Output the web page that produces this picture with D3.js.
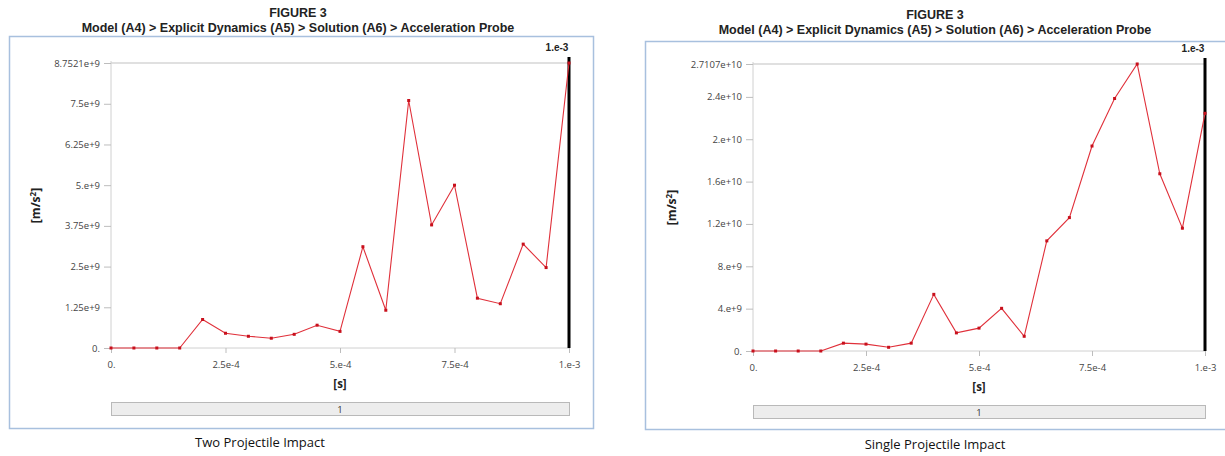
<!DOCTYPE html>
<html>
<head>
<meta charset="utf-8">
<script src="https://cdn.jsdelivr.net/npm/d3@7"></script>
<style>
  body { margin: 0; background: #fff; }
  svg { display: block; }
</style>
</head>
<body>
<div id="chart"></div>
<script>
const WIDTH = 1225;
const HEIGHT = 456;

// time steps [s]
const TIME = [0, 5e-5, 1e-4, 1.5e-4, 2e-4, 2.5e-4, 3e-4, 3.5e-4, 4e-4, 4.5e-4, 5e-4,
              5.5e-4, 6e-4, 6.5e-4, 7e-4, 7.5e-4, 8e-4, 8.5e-4, 9e-4, 9.5e-4, 1e-3];

// acceleration [m/s^2]
const TWO_PROJ = [0, 0, 0, 0, 0.875e9, 0.453e9, 0.36e9, 0.30e9, 0.42e9, 0.70e9, 0.51e9,
                  3.11e9, 1.16e9, 7.6e9, 3.78e9, 5.0e9, 1.53e9, 1.36e9, 3.19e9, 2.47e9, 8.7521e9];
const SINGLE_PROJ = [0, 0, 0, 0, 0.74e9, 0.65e9, 0.35e9, 0.74e9, 5.35e9, 1.71e9, 2.16e9,
                     4.03e9, 1.39e9, 1.04e10, 1.26e10, 1.936e10, 2.385e10, 2.7107e10, 1.674e10, 1.16e10, 2.245e10];

const X_TICKS = [0, 2.5e-4, 5e-4, 7.5e-4, 1e-3];
const X_TICK_LABELS = ['0.', '2.5e-4', '5.e-4', '7.5e-4', '1.e-3'];

const TWO_Y_TICKS = [0, 1.25e9, 2.5e9, 3.75e9, 5e9, 6.25e9, 7.5e9, 8.7521e9];
const TWO_Y_LABELS = ['0.', '1.25e+9', '2.5e+9', '3.75e+9', '5.e+9', '6.25e+9', '7.5e+9', '8.7521e+9'];
const SINGLE_Y_TICKS = [0, 4e9, 8e9, 1.2e10, 1.6e10, 2e10, 2.4e10, 2.7107e10];
const SINGLE_Y_LABELS = ['0.', '4.e+9', '8.e+9', '1.2e+10', '1.6e+10', '2.e+10', '2.4e+10', '2.7107e+10'];

const TITLE = 'FIGURE 3';
const SUBTITLE = 'Model (A4) > Explicit Dynamics (A5) > Solution (A6) > Acceleration Probe';

const TITLE_FONT = "'Liberation Sans Narrow', 'Liberation Sans', Arial, sans-serif";
const TICK_FONT = "'Open Sans', 'Noto Sans', sans-serif";

const PANELS = [
  { frame: [9, 36, 584, 392], plot: [111, 63, 569, 348], titleX: 298, titleY: 17,
    values: TWO_PROJ, yTicks: TWO_Y_TICKS, yLabels: TWO_Y_LABELS, yLabelX: 40,
    caption: 'Two Projectile Impact', captionX: 260, captionY: 447 },
  { frame: [645, 41, 600, 388], plot: [753, 64, 1205, 351], titleX: 935, titleY: 19,
    values: SINGLE_PROJ, yTicks: SINGLE_Y_TICKS, yLabels: SINGLE_Y_LABELS, yLabelX: 676,
    caption: 'Single Projectile Impact', captionX: 935, captionY: 449 }
];

const svg = d3.select('#chart').append('svg')
  .attr('width', WIDTH)
  .attr('height', HEIGHT);

svg.append('rect')
  .attr('width', WIDTH)
  .attr('height', HEIGHT)
  .attr('fill', '#fff');

PANELS.forEach(p => {
  const [x0, y0, x1, y1] = p.plot;
  const xScale = d3.scaleLinear().domain([0, 1e-3]).range([x0, x1]);
  const yScale = d3.scaleLinear().domain([0, d3.max(p.yTicks)]).range([y1, y0]);

  // Frame
  svg.append('rect')
    .attr('x', p.frame[0] + 0.5)
    .attr('y', p.frame[1] + 0.5)
    .attr('width', p.frame[2])
    .attr('height', p.frame[3])
    .attr('fill', 'none')
    .attr('stroke', '#a8c0de')
    .attr('stroke-width', 1.5);

  // Titles
  svg.append('text')
    .attr('x', p.titleX)
    .attr('y', p.titleY)
    .attr('text-anchor', 'middle')
    .style('font-family', TITLE_FONT)
    .style('font-weight', 'bold')
    .style('font-size', '12.5px')
    .attr('fill', '#222')
    .text(TITLE);

  svg.append('text')
    .attr('x', p.titleX)
    .attr('y', p.titleY + 15)
    .attr('text-anchor', 'middle')
    .style('font-family', TITLE_FONT)
    .style('font-weight', 'bold')
    .style('font-size', '12.5px')
    .attr('fill', '#222')
    .text(SUBTITLE);

  // Top gridline at max value
  svg.append('line')
    .attr('x1', x0).attr('x2', x1)
    .attr('y1', yScale(d3.max(p.yTicks))).attr('y2', yScale(d3.max(p.yTicks)))
    .attr('stroke', '#d6d6d6')
    .attr('stroke-width', 1.5);

  // Y axis
  const yAxis = svg.append('g')
    .attr('transform', 'translate(' + x0 + ',0)')
    .call(d3.axisLeft(yScale)
      .tickValues(p.yTicks)
      .tickFormat((d, i) => p.yLabels[i])
      .tickSize(7)
      .tickPadding(4));

  // X axis
  const xAxis = svg.append('g')
    .attr('transform', 'translate(0,' + y1 + ')')
    .call(d3.axisBottom(xScale)
      .tickValues(X_TICKS)
      .tickFormat((d, i) => X_TICK_LABELS[i])
      .tickSize(5)
      .tickPadding(8));

  [yAxis, xAxis].forEach(ax => {
    ax.select('.domain').attr('stroke', '#d0d0d0');
    ax.selectAll('.tick line').attr('stroke', '#bdbdbd');
    ax.selectAll('.tick text')
      .attr('fill', '#444')
      .style('font-family', TICK_FONT)
      .style('font-size', '9.5px');
  });
  yAxis.select('.domain').attr('d', 'M0,' + y1 + 'V' + (y0 - 2));
  xAxis.select('.domain').attr('d', 'M' + x0 + ',0H' + x1);

  // Axis titles
  svg.append('text')
    .attr('transform', 'translate(' + p.yLabelX + ',' + ((y0 + y1) / 2) + ') rotate(-90)')
    .attr('text-anchor', 'middle')
    .style('font-family', TICK_FONT)
    .style('font-weight', 'bold')
    .style('font-size', '12px')
    .attr('fill', '#222')
    .html('[m/s<tspan dy="-4" font-size="8px">2</tspan><tspan dy="4">]</tspan>');

  svg.append('text')
    .attr('x', (x0 + x1) / 2)
    .attr('y', y1 + 40)
    .attr('text-anchor', 'middle')
    .style('font-family', TICK_FONT)
    .style('font-weight', 'bold')
    .style('font-size', '11.5px')
    .attr('fill', '#222')
    .text('[s]');

  // Cursor line at 1.e-3
  svg.append('line')
    .attr('x1', xScale(1e-3)).attr('x2', xScale(1e-3))
    .attr('y1', y0 - 6).attr('y2', y1)
    .attr('stroke', '#000')
    .attr('stroke-width', 3);

  svg.append('text')
    .attr('x', xScale(1e-3) - 12)
    .attr('y', y0 - 12)
    .attr('text-anchor', 'middle')
    .style('font-family', TITLE_FONT)
    .style('font-weight', 'bold')
    .style('font-size', '10px')
    .attr('fill', '#222')
    .text('1.e-3');

  // Series line
  const pts = TIME.map((t, i) => [t, p.values[i]]);
  svg.append('path')
    .datum(pts)
    .attr('fill', 'none')
    .attr('stroke', '#e0303a')
    .attr('stroke-width', 1.1)
    .attr('d', d3.line().x(d => xScale(d[0])).y(d => yScale(d[1])));

  svg.selectAll(null)
    .data(pts)
    .enter().append('rect')
    .attr('x', d => xScale(d[0]) - 1.5)
    .attr('y', d => yScale(d[1]) - 1.5)
    .attr('width', 3)
    .attr('height', 3)
    .attr('fill', '#c8101c');

  // Slider bar
  svg.append('rect')
    .attr('x', x0 + 0.5)
    .attr('y', y1 + 54.5)
    .attr('width', x1 - x0)
    .attr('height', 13)
    .attr('fill', '#ededed')
    .attr('stroke', '#b9b9b9');

  svg.append('text')
    .attr('x', (x0 + x1) / 2)
    .attr('y', y1 + 65)
    .attr('text-anchor', 'middle')
    .style('font-family', TICK_FONT)
    .style('font-size', '9.5px')
    .attr('fill', '#333')
    .text('1');

  // Caption
  svg.append('text')
    .attr('x', p.captionX)
    .attr('y', p.captionY)
    .attr('text-anchor', 'middle')
    .style('font-family', TICK_FONT)
    .style('font-size', '13px')
    .attr('fill', '#111')
    .text(p.caption);
});
</script>
</body>
</html>
